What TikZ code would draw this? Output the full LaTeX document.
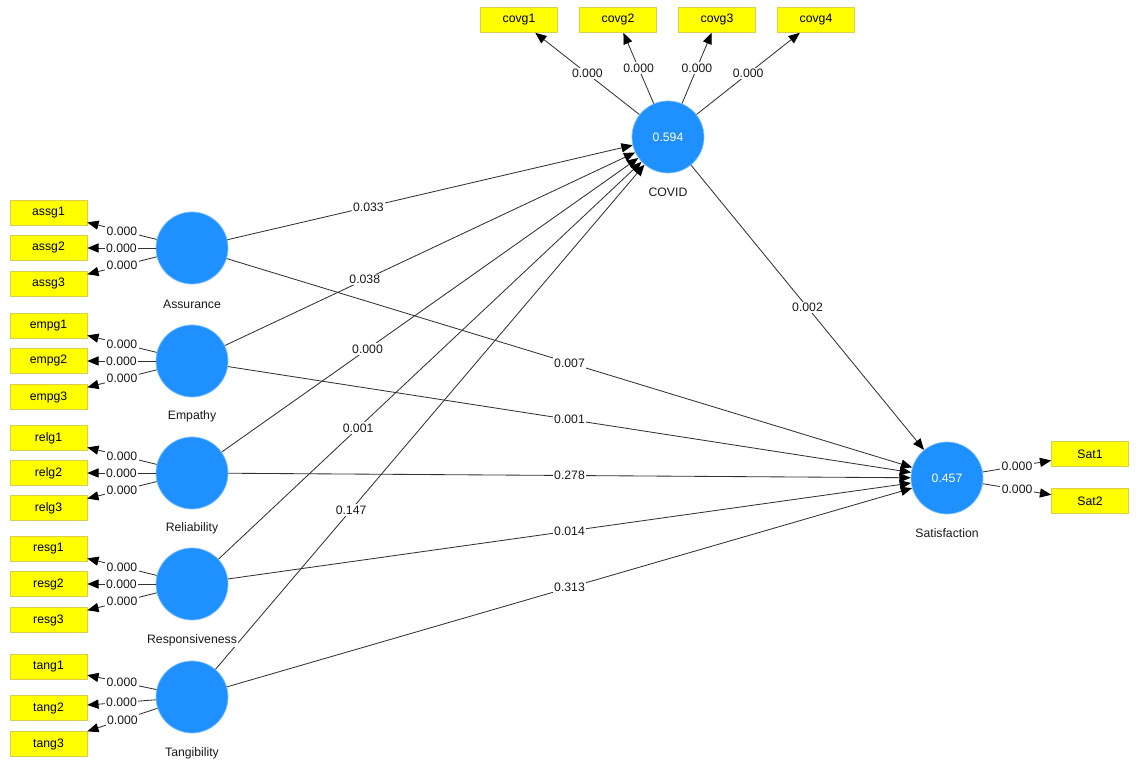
\documentclass[tikz,border=0pt]{standalone}
\usepackage{fontspec}
\setmainfont{Liberation Sans}
\usetikzlibrary{arrows.meta,positioning}
\definecolor{lvblue}{HTML}{1E90FF}
\definecolor{indyellow}{HTML}{FFFF00}
\newcommand{\plsfont}{\fontsize{8.7}{10}\selectfont}

\begin{document}
\begin{tikzpicture}[
    x=0.025cm, y=-0.025cm,
    latent/.style={circle, fill=lvblue, draw=lvblue!55, line width=0.5pt, minimum size=1.8cm, inner sep=0pt, text=white, font=\plsfont},
    indicator/.style={rectangle, fill=indyellow, draw=yellow!65!gray, minimum width=1.925cm, minimum height=0.625cm, inner sep=0pt, font=\plsfont},
    lvname/.style={fill=white, inner sep=1pt, text=black!90, font=\plsfont},
    coef/.style={fill=white, inner sep=1pt, text=black!90, font=\plsfont},
    arrow/.style={-{Triangle[length=8pt,width=6.5pt,color=black]}, draw=black!80, line width=0.6pt}
]
    \useasboundingbox (0,0) rectangle (1138,766);

    % Latent variables
    \node[latent] (ass) at (192,248) {};
    \node[latent] (emp) at (192,361) {};
    \node[latent] (rel) at (192,473) {};
    \node[latent] (res) at (192,584) {};
    \node[latent] (tan) at (192,697) {};
    \node[latent] (cov) at (668,137) {0.594};
    \node[latent] (sat) at (947,478) {0.457};

    % Indicators
    \node[indicator] (assg1) at (48.5,213) {assg1};
    \node[indicator] (assg2) at (48.5,248) {assg2};
    \node[indicator] (assg3) at (48.5,284) {assg3};
    \node[indicator] (empg1) at (48.5,326) {empg1};
    \node[indicator] (empg2) at (48.5,361) {empg2};
    \node[indicator] (empg3) at (48.5,397) {empg3};
    \node[indicator] (relg1) at (48.5,438) {relg1};
    \node[indicator] (relg2) at (48.5,473) {relg2};
    \node[indicator] (relg3) at (48.5,508) {relg3};
    \node[indicator] (resg1) at (48.5,549) {resg1};
    \node[indicator] (resg2) at (48.5,584) {resg2};
    \node[indicator] (resg3) at (48.5,620) {resg3};
    \node[indicator] (tang1) at (48.5,667) {tang1};
    \node[indicator] (tang2) at (48.5,708) {tang2};
    \node[indicator] (tang3) at (48.5,744) {tang3};
    \node[indicator] (covg1) at (519,20) {covg1};
    \node[indicator] (covg2) at (618,20) {covg2};
    \node[indicator] (covg3) at (717,20) {covg3};
    \node[indicator] (covg4) at (816,20) {covg4};
    \node[indicator] (sat1) at (1090,454) {Sat1};
    \node[indicator] (sat2) at (1090,501) {Sat2};

    % Outer loadings
    \draw[arrow] (ass) -- node[coef] {0.000} (assg1);
    \draw[arrow] (ass) -- node[coef] {0.000} (assg2);
    \draw[arrow] (ass) -- node[coef] {0.000} (assg3);
    \draw[arrow] (emp) -- node[coef] {0.000} (empg1);
    \draw[arrow] (emp) -- node[coef] {0.000} (empg2);
    \draw[arrow] (emp) -- node[coef] {0.000} (empg3);
    \draw[arrow] (rel) -- node[coef] {0.000} (relg1);
    \draw[arrow] (rel) -- node[coef] {0.000} (relg2);
    \draw[arrow] (rel) -- node[coef] {0.000} (relg3);
    \draw[arrow] (res) -- node[coef] {0.000} (resg1);
    \draw[arrow] (res) -- node[coef] {0.000} (resg2);
    \draw[arrow] (res) -- node[coef] {0.000} (resg3);
    \draw[arrow] (tan) -- node[coef] {0.000} (tang1);
    \draw[arrow] (tan) -- node[coef] {0.000} (tang2);
    \draw[arrow] (tan) -- node[coef] {0.000} (tang3);
    \draw[arrow] (cov) -- node[coef] {0.000} (covg1);
    \draw[arrow] (cov) -- node[coef] {0.000} (covg2);
    \draw[arrow] (cov) -- node[coef] {0.000} (covg3);
    \draw[arrow] (cov) -- node[coef] {0.000} (covg4);
    \draw[arrow] (sat) -- node[coef] {0.000} (sat1);
    \draw[arrow] (sat) -- node[coef] {0.000} (sat2);

    % Inner paths
    \draw[arrow] (ass) -- node[coef, pos=0.348] {0.033} (cov);
    \draw[arrow] (emp) -- node[coef, pos=0.341] {0.038} (cov);
    \draw[arrow] (rel) -- node[coef, pos=0.35] {0.000} (cov);
    \draw[arrow] (res) -- node[coef, pos=0.33] {0.001} (cov);
    \draw[arrow] (tan) -- node[coef, pos=0.316] {0.147} (cov);
    \draw[arrow] (ass) -- node[coef] {0.007} (sat);
    \draw[arrow] (emp) -- node[coef] {0.001} (sat);
    \draw[arrow] (rel) -- node[coef] {0.278} (sat);
    \draw[arrow] (res) -- node[coef] {0.014} (sat);
    \draw[arrow] (tan) -- node[coef] {0.313} (sat);
    \draw[arrow] (cov) -- node[coef] {0.002} (sat);

    % Construct names
    \node[lvname] (assname) at (192,304) {Assurance};
    \node[lvname] (empname) at (192,416) {Empathy};
    \node[lvname] (relname) at (192,528) {Reliability};
    \node[lvname] (resname) at (192,640) {Responsiveness};
    \node[lvname] (tanname) at (192,753) {Tangibility};
    \node[lvname] (covname) at (668,192) {COVID};
    \node[lvname] (satname) at (947,533) {Satisfaction};
\end{tikzpicture}
\end{document}
